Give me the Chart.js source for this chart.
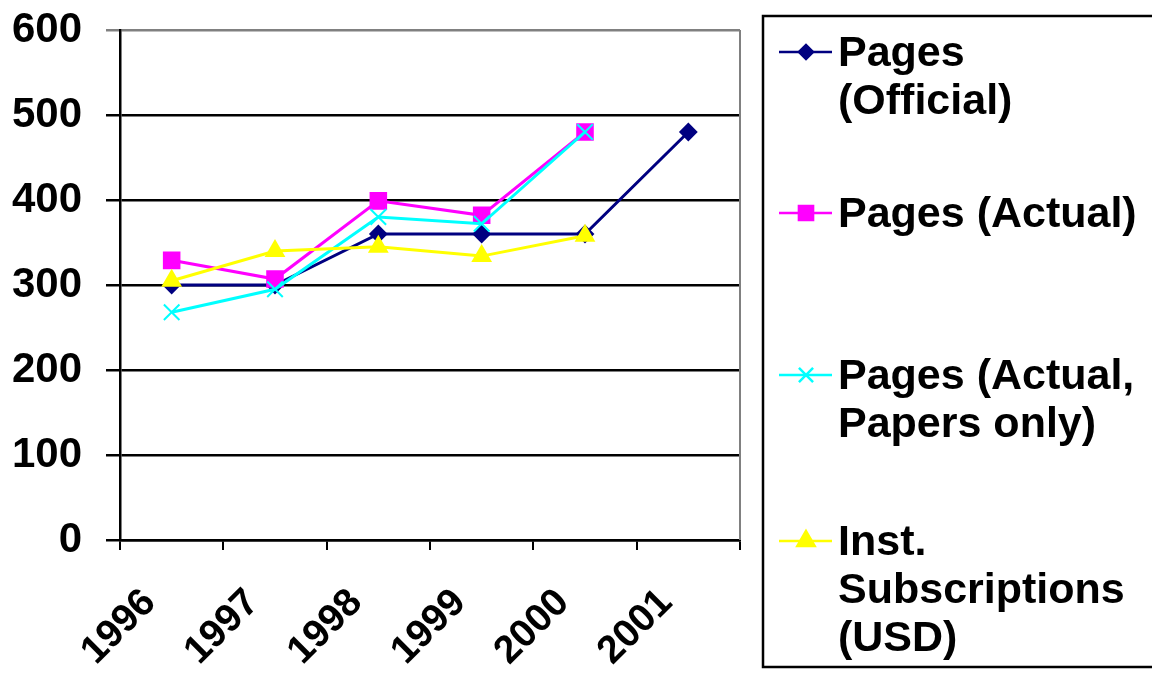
<!DOCTYPE html>
<html>
<head>
<meta charset="utf-8">
<script src="https://cdn.jsdelivr.net/npm/chart.js@4.4.1/dist/chart.umd.min.js"></script>
<style>
    html, body { margin: 0; padding: 0; background: #fff; }
    #wrap { width: 1152px; height: 680px; }
</style>
</head>
<body>
<div id="wrap"><canvas id="pagesChart"></canvas></div>
<script>
// Data
const years = ['1996', '1997', '1998', '1999', '2000', '2001'];
const pagesOfficial = [300, 300, 360, 360, 360, 480];
const pagesActual = [329, 307, 399, 382, 480, null];
const pagesPapersOnly = [268, 295, 380, 372, 480, null];
const instSubscriptions = [305, 340, 345, 334, 358, null];
const yTicks = [0, 100, 200, 300, 400, 500, 600];
const legendLines = [
    ['Pages', '(Official)'],
    ['Pages (Actual)'],
    ['Pages (Actual,', 'Papers only)'],
    ['Inst.', 'Subscriptions', '(USD)']
];

const FONT = '"Liberation Sans", Arial, Helvetica, sans-serif';

// Legend box drawn at the right, multi-line labels
const boxLegend = {
    id: 'boxLegend',
    afterDraw(chart) {
        const ctx = chart.ctx;
        ctx.save();
        ctx.strokeStyle = '#000';
        ctx.lineWidth = 2.5;
        ctx.strokeRect(763, 16, 420, 651);

        const rowY = [52, 213, 375, 541];
        const markerSize = [7, 10, 10, 10];
        chart.data.datasets.forEach((ds, i) => {
            const y = rowY[i];
            ctx.strokeStyle = ds.borderColor;
            ctx.fillStyle = ds.pointBackgroundColor;
            ctx.lineWidth = 2.5;
            ctx.beginPath();
            ctx.moveTo(779, y);
            ctx.lineTo(832, y);
            ctx.stroke();
            Chart.helpers.drawPoint(ctx, {
                pointStyle: ds.pointStyle,
                radius: markerSize[i],
                borderWidth: 2
            }, 806, y);

            ctx.fillStyle = '#000';
            ctx.font = 'bold 43px ' + FONT;
            ctx.textBaseline = 'alphabetic';
            ctx.textAlign = 'left';
            legendLines[i].forEach((t, j) => ctx.fillText(t, 838, y + 14 + j * 48));
        });
        ctx.restore();
    }
};

// Grey right border of the plot area
const plotBorder = {
    id: 'plotBorder',
    beforeDatasetsDraw(chart) {
        const { ctx, chartArea } = chart;
        ctx.save();
        ctx.strokeStyle = '#808080';
        ctx.lineWidth = 2;
        ctx.beginPath();
        ctx.moveTo(chartArea.right, chartArea.top);
        ctx.lineTo(chartArea.right, chartArea.bottom);
        ctx.stroke();
        ctx.restore();
    }
};

function series(label, data, color, pointStyle, radius, order) {
    return {
        label: label,
        data: data,
        order: order,
        borderColor: color,
        backgroundColor: color,
        pointBackgroundColor: color,
        pointBorderColor: color,
        pointStyle: pointStyle,
        pointRadius: radius,
        pointHoverRadius: radius,
        pointBorderWidth: 2,
        borderWidth: 3,
        tension: 0,
        spanGaps: false
    };
}

const ctx = document.getElementById('pagesChart').getContext('2d');
new Chart(ctx, {
    type: 'line',
    data: {
        labels: years,
        datasets: [
            series(legendLines[0].join(' '), pagesOfficial, '#000080', 'rectRot', 8, 4),
            series(legendLines[1].join(' '), pagesActual, '#FF00FF', 'rect', 11, 3),
            series(legendLines[2].join(' '), pagesPapersOnly, '#00FFFF', 'crossRot', 11, 2),
            series(legendLines[3].join(' '), instSubscriptions, '#FFFF00', 'triangle', 10, 1)
        ]
    },
    options: {
        responsive: true,
        maintainAspectRatio: false,
        animation: false,
        devicePixelRatio: 1,
        layout: {
            padding: { top: 30, right: 412, bottom: 0, left: 0 }
        },
        plugins: {
            legend: { display: false },
            tooltip: { enabled: false }
        },
        scales: {
            x: {
                offset: true,
                grid: {
                    offset: true,
                    drawOnChartArea: false,
                    drawTicks: true,
                    tickLength: 10,
                    color: '#000',
                    lineWidth: 2
                },
                border: { color: '#000', width: 2.5 },
                ticks: {
                    color: '#000',
                    font: { family: FONT, size: 39, weight: 'bold' },
                    minRotation: 45,
                    maxRotation: 45,
                    padding: 30,
                    labelOffset: -22
                },
                afterFit: (scale) => {
                    scale.height = 140;
                    scale.paddingLeft = 0;
                    scale.paddingRight = 0;
                }
            },
            y: {
                min: yTicks[0],
                max: yTicks[yTicks.length - 1],
                afterBuildTicks: (scale) => {
                    scale.ticks = yTicks.map(v => ({ value: v }));
                },
                grid: {
                    color: (c) => (c.tick && c.tick.value === 600 ? '#808080' : '#000'),
                    lineWidth: 2.5,
                    tickLength: 14
                },
                border: { color: '#000', width: 2.5 },
                ticks: {
                    color: '#000',
                    font: { family: FONT, size: 42, weight: 'bold' },
                    padding: 24
                },
                afterFit: (scale) => {
                    scale.width = 120;
                    scale.paddingTop = 0;
                    scale.paddingBottom = 0;
                }
            }
        }
    },
    plugins: [plotBorder, boxLegend]
});
</script>
</body>
</html>
